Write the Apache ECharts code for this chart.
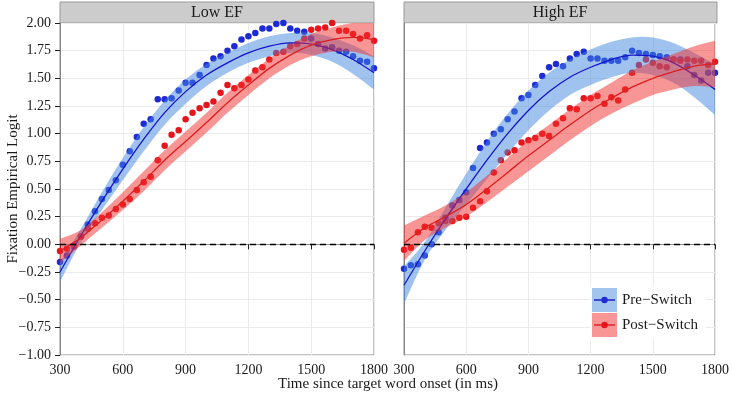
<!DOCTYPE html>
<html>
<head>
<meta charset="utf-8">
<script src="https://cdn.jsdelivr.net/npm/echarts@6/dist/echarts.min.js"></script>
<style>
  html, body { margin: 0; padding: 0; background: #fff; }
  #chart { width: 732px; height: 397px; }
</style>
</head>
<body>
<div id="chart"></div>
<script>
// time bins (ms)
var time = [300, 333, 367, 400, 433, 467, 500, 533, 567, 600, 633, 667, 700, 733, 767, 800,
  833, 867, 900, 933, 967, 1000, 1033, 1067, 1100, 1133, 1167, 1200, 1233, 1267, 1300,
  1333, 1367, 1400, 1433, 1467, 1500, 1533, 1567, 1600, 1633, 1667, 1700, 1733, 1767, 1800]

// observed empirical logits
var lowPre = [-0.16, -0.10, -0.02, 0.07, 0.18, 0.30, 0.41, 0.49, 0.58, 0.72, 0.84, 0.97, 1.09, 1.13, 1.31, 1.31,
  1.32, 1.39, 1.46, 1.46, 1.53, 1.62, 1.68, 1.70, 1.75, 1.79, 1.85, 1.88, 1.91, 1.95, 1.95,
  1.99, 2.00, 1.95, 1.93, 1.92, 1.86, 1.81, 1.77, 1.78, 1.75, 1.74, 1.70, 1.66, 1.65, 1.59]
var lowPost = [-0.06, -0.04, -0.01, 0.07, 0.14, 0.19, 0.24, 0.26, 0.32, 0.36, 0.41, 0.49, 0.56, 0.61, 0.76, 0.89,
  0.99, 1.03, 1.13, 1.19, 1.23, 1.26, 1.29, 1.37, 1.44, 1.41, 1.44, 1.49, 1.57, 1.60, 1.67,
  1.73, 1.74, 1.79, 1.81, 1.86, 1.94, 1.95, 1.96, 2.00, 1.93, 1.93, 1.90, 1.86, 1.89, 1.84]
var highPre = [-0.22, -0.19, -0.18, -0.10, 0.00, 0.11, 0.24, 0.35, 0.40, 0.47, 0.69, 0.87, 0.92, 1.00, 1.04, 1.13,
  1.20, 1.32, 1.35, 1.44, 1.52, 1.60, 1.63, 1.61, 1.68, 1.72, 1.74, 1.68, 1.68, 1.66, 1.66,
  1.66, 1.69, 1.75, 1.73, 1.72, 1.71, 1.70, 1.69, 1.67, 1.67, 1.61, 1.53, 1.48, 1.55, 1.55]
var highPost = [-0.05, -0.03, 0.11, 0.16, 0.15, 0.19, 0.21, 0.21, 0.24, 0.25, 0.33, 0.39, 0.48, 0.65, 0.76, 0.83,
  0.85, 0.92, 0.94, 0.96, 1.00, 0.98, 1.09, 1.14, 1.23, 1.22, 1.32, 1.32, 1.34, 1.27, 1.33,
  1.30, 1.40, 1.55, 1.62, 1.67, 1.64, 1.61, 1.60, 1.67, 1.66, 1.67, 1.66, 1.66, 1.62, 1.65]

// fitted curves and their confidence half-widths, read every 100 ms
var fitTime = [300, 400, 500, 600, 700, 800, 900, 1000, 1100, 1200, 1300, 1400, 1500, 1600, 1700, 1800]
var lowPreFit = [-0.25, 0.08, 0.39, 0.68, 0.95, 1.19, 1.38, 1.53, 1.64, 1.73, 1.79, 1.82, 1.81, 1.76, 1.67, 1.55]
var lowPreSe = [0.09, 0.06, 0.08, 0.10, 0.11, 0.11, 0.11, 0.10, 0.09, 0.09, 0.09, 0.09, 0.10, 0.11, 0.13, 0.15]
var lowPostFit = [-0.06, 0.06, 0.22, 0.39, 0.57, 0.76, 0.93, 1.10, 1.28, 1.44, 1.59, 1.71, 1.80, 1.85, 1.87, 1.85]
var lowPostSe = [0.11, 0.07, 0.07, 0.08, 0.09, 0.09, 0.09, 0.09, 0.09, 0.09, 0.09, 0.09, 0.10, 0.11, 0.13, 0.16]
var highPreFit = [-0.37, -0.06, 0.23, 0.50, 0.76, 1.00, 1.21, 1.38, 1.51, 1.60, 1.67, 1.71, 1.70, 1.64, 1.53, 1.40]
var highPreSe = [0.17, 0.08, 0.10, 0.14, 0.17, 0.18, 0.18, 0.17, 0.16, 0.16, 0.16, 0.16, 0.17, 0.18, 0.20, 0.23]
var highPostFit = [0.01, 0.15, 0.25, 0.36, 0.50, 0.65, 0.80, 0.94, 1.08, 1.21, 1.32, 1.42, 1.50, 1.56, 1.61, 1.63]
var highPostSe = [0.16, 0.11, 0.10, 0.11, 0.12, 0.13, 0.14, 0.14, 0.14, 0.14, 0.14, 0.15, 0.15, 0.16, 0.18, 0.21]

var panels = ['Low EF', 'High EF']
var groups = ['Pre−Switch', 'Post−Switch']
var xTicks = { min: 300, max: 1800, step: 300 }
var yTicks = { min: -1, max: 2, step: 0.25 }

var FONT = 'Liberation Serif'
var BLUE_PT = '#1e2ad6', RED_PT = '#e8141a'
var BLUE_LINE = '#1414c8', RED_LINE = '#dc1e1e'
var BLUE_FILL = 'rgba(66,133,224,0.5)', RED_FILL = 'rgba(242,45,45,0.5)'

var gridPos = [
  { left: 60, top: 23, width: 314, height: 332 },
  { left: 404, top: 23, width: 313, height: 332 },
]

function pairs(xs, ys) {
  return xs.map(function (x, i) { return [x, ys[i]] })
}

// catmull-rom -> bezier through pixel points
function spline(p) {
  var d = ''
  for (var i = 0; i < p.length - 1; i++) {
    var a = p[Math.max(i - 1, 0)], b = p[i], c = p[i + 1], e = p[Math.min(i + 2, p.length - 1)]
    d += ' C' + (b[0] + (c[0] - a[0]) / 6) + ',' + (b[1] + (c[1] - a[1]) / 6) +
      ' ' + (c[0] - (e[0] - b[0]) / 6) + ',' + (c[1] - (e[1] - b[1]) / 6) +
      ' ' + c[0] + ',' + c[1]
  }
  return d
}

function pointSeries(name, gi, vals, color) {
  return {
    name: name, type: 'scatter', xAxisIndex: gi, yAxisIndex: gi, z: 1,
    data: pairs(time, vals), symbolSize: 6.5,
    itemStyle: { color: color, opacity: 1 },
  }
}

function ribbonSeries(name, gi, fit, se, fill, z) {
  var rows = fitTime.map(function (t, i) { return [t, fit[i] - se[i], fit[i] + se[i]] })
  return {
    name: name, type: 'custom', xAxisIndex: gi, yAxisIndex: gi, silent: true, z: z,
    data: rows,
    encode: { x: 0, y: [1, 2] },
    renderItem: function (params, api) {
      if (params.dataIndex !== 0) return
      var up = rows.map(function (r) { return api.coord([r[0], r[2]]) })
      var lo = rows.map(function (r) { return api.coord([r[0], r[1]]) }).reverse()
      var d = 'M' + up[0][0] + ',' + up[0][1] + spline(up) + ' L' + lo[0][0] + ',' + lo[0][1] + spline(lo) + ' Z'
      var cs = params.coordSys
      return {
        type: 'path',
        shape: { pathData: d },
        style: { fill: fill },
        clipPath: { type: 'rect', shape: { x: cs.x, y: cs.y, width: cs.width, height: cs.height } },
      }
    },
  }
}

function fitSeries(name, gi, fit, color, z) {
  return {
    name: name, type: 'line', xAxisIndex: gi, yAxisIndex: gi, z: z,
    data: pairs(fitTime, fit), smooth: 0.33, showSymbol: false, silent: true,
    lineStyle: { color: color, width: 1.3 }, itemStyle: { color: color },
  }
}

var series = []
var panelData = [
  [lowPre, lowPost, lowPreFit, lowPreSe, lowPostFit, lowPostSe],
  [highPre, highPost, highPreFit, highPreSe, highPostFit, highPostSe],
]
panelData.forEach(function (d, gi) {
  series.push(
    pointSeries(groups[0], gi, d[0], BLUE_PT),
    pointSeries(groups[1], gi, d[1], RED_PT),
    ribbonSeries(groups[0], gi, d[2], d[3], BLUE_FILL, 2),
    fitSeries(groups[0], gi, d[2], BLUE_LINE, 3),
    ribbonSeries(groups[1], gi, d[4], d[5], RED_FILL, 4)
  )
  var last = fitSeries(groups[1], gi, d[4], RED_LINE, 5)
  // dashed zero reference
  last.markLine = {
    silent: true, symbol: 'none', label: { show: false }, z: 6,
    lineStyle: { color: '#000', type: [6, 4], width: 1.4 },
    data: [{ yAxis: 0 }],
  }
  series.push(last)
})

function svgIcon(fill, line, dot) {
  var svg = "<svg xmlns='http://www.w3.org/2000/svg' width='25' height='24'>" +
    "<rect x='0' y='0' width='25' height='24' fill='" + fill + "'/>" +
    "<line x1='2' y1='12' x2='23' y2='12' stroke='" + line + "' stroke-width='1.4'/>" +
    "<circle cx='12.5' cy='12' r='3.2' fill='" + dot + "'/></svg>"
  return 'image://data:image/svg+xml;charset=utf-8,' + encodeURIComponent(svg)
}

var axisText = { color: '#1a1a1a', fontFamily: FONT, fontSize: 14 }

var option = {
  animation: false,
  backgroundColor: '#fff',
  grid: gridPos.map(function (g) {
    return Object.assign({ show: true, borderColor: '#888', borderWidth: 1, backgroundColor: '#fff' }, g)
  }),
  xAxis: [0, 1].map(function (gi) {
    return {
      type: 'value', gridIndex: gi, min: xTicks.min, max: xTicks.max, interval: xTicks.step,
      axisLine: { show: true, lineStyle: { color: '#888' } },
      axisTick: { show: true, length: 5, lineStyle: { color: '#222' } },
      axisLabel: Object.assign({
        margin: 8,
        formatter: function (v) { return String(v) },
      }, axisText),
      splitLine: { show: true, lineStyle: { color: '#ebebeb', width: 1 } },
    }
  }),
  yAxis: [0, 1].map(function (gi) {
    return {
      type: 'value', gridIndex: gi, min: yTicks.min, max: yTicks.max, interval: yTicks.step,
      axisLine: { show: true, lineStyle: { color: '#888' } },
      axisTick: { show: gi === 0, length: 5, lineStyle: { color: '#222' } },
      axisLabel: Object.assign({
        show: gi === 0, margin: 9,
        formatter: function (v) { return v.toFixed(2).replace('-', '−') },
      }, axisText),
      splitLine: { show: true, lineStyle: { color: '#ebebeb', width: 1 } },
    }
  }),
  legend: {
    left: 590, top: 286, orient: 'vertical',
    itemWidth: 25, itemHeight: 24, itemGap: 1,
    padding: [2, 8, 2, 2], backgroundColor: '#fff',
    selectedMode: false,
    textStyle: { fontFamily: FONT, fontSize: 15, color: '#1a1a1a' },
    data: [
      { name: groups[0], icon: svgIcon('#a2c5ed', BLUE_LINE, BLUE_PT) },
      { name: groups[1], icon: svgIcon('#f89696', RED_LINE, RED_PT) },
    ],
  },
  graphic: [
    // facet strips
    { type: 'rect', shape: { x: 60, y: 2, width: 314, height: 21 }, style: { fill: '#cccccc', stroke: '#999', lineWidth: 1 } },
    { type: 'rect', shape: { x: 404, y: 2, width: 313, height: 21 }, style: { fill: '#cccccc', stroke: '#999', lineWidth: 1 } },
    { type: 'text', x: 217, y: 13, style: { text: panels[0], font: '16px "Liberation Serif"', fill: '#1a1a1a', align: 'center', verticalAlign: 'middle' } },
    { type: 'text', x: 560, y: 13, style: { text: panels[1], font: '16px "Liberation Serif"', fill: '#1a1a1a', align: 'center', verticalAlign: 'middle' } },
    // axis titles
    { type: 'text', x: 388, y: 384, style: { text: 'Time since target word onset (in ms)', font: '15px "Liberation Serif"', fill: '#1a1a1a', align: 'center', verticalAlign: 'middle' } },
    { type: 'text', x: 13, y: 189, rotation: Math.PI / 2, style: { text: 'Fixation Empirical Logit', font: '15px "Liberation Serif"', fill: '#1a1a1a', align: 'center', verticalAlign: 'middle' } },
  ],
  series: series,
}

var myChart = echarts.init(document.getElementById('chart'))
myChart.setOption(option)
</script>
</body>
</html>
